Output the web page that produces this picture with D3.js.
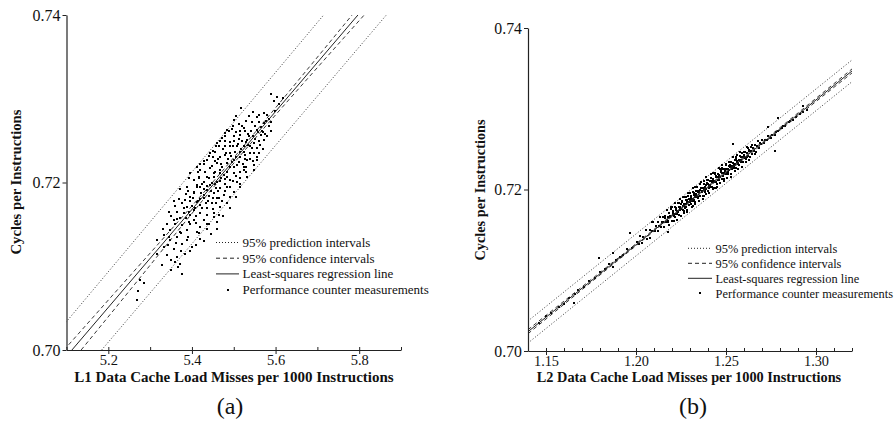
<!DOCTYPE html>
<html><head><meta charset="utf-8">
<script src="https://cdn.jsdelivr.net/npm/d3@7"></script>
<style>
body{margin:0;background:#fff}
svg{display:block}
text{font-family:"Liberation Serif","Times New Roman",serif;fill:#111}
</style>
</head><body><svg id="c" width="896" height="421"></svg>
<script>
// ---------------- Panel (a): L1 data cache ----------------
const aXTicks = [5.1, 5.2, 5.3, 5.4, 5.5, 5.6, 5.7, 5.8, 5.9];
const aXLabels = [5.2, 5.4, 5.6, 5.8];
const aYTicks = [0.70, 0.72, 0.74];
const aRegression = [[5.113, 0.70], [5.797, 0.74]];
const aConfUpper = [[5.094, 0.70], [5.272, 0.71], [5.449, 0.72], [5.618, 0.73], [5.783, 0.74]];
const aConfLower = [[5.135, 0.70], [5.298, 0.71], [5.461, 0.72], [5.634, 0.73], [5.812, 0.74]];
const aPredUpper = [[5.08, 0.7022], [5.715, 0.74]];
const aPredLower = [[5.184, 0.70], [5.865, 0.74]];
const aPoints = [
[5.518,0.7289],[5.56,0.7281],[5.588,0.7306],[5.604,0.7302],[5.618,0.7301],[5.596,0.7297],[5.608,0.7294],[5.572,0.7283],[5.58,0.7281],
[5.50,0.7275],[5.536,0.728],[5.556,0.7278],[5.572,0.7271],[5.584,0.7267],[5.556,0.7263],[5.524,0.7265],[5.484,0.7263],[5.512,0.727],[5.544,0.7272],[5.568,0.7262],
[5.48,0.7259],[5.50,0.7255],[5.516,0.7257],[5.532,0.7251],[5.548,0.7247],[5.564,0.7257],[5.572,0.7251],[5.508,0.7243],[5.46,0.7247],[5.492,0.7243],[5.524,0.7243],[5.544,0.7241],[5.556,0.7241],[5.472,0.7253],[5.536,0.7255],
[5.444,0.7235],[5.468,0.7231],[5.492,0.7235],[5.50,0.7227],[5.516,0.7231],[5.532,0.7227],[5.54,0.7235],[5.556,0.7227],[5.46,0.7223],[5.484,0.7223],[5.508,0.7221],[5.524,0.7219],[5.436,0.7227],[5.548,0.7221],[5.456,0.7237],[5.48,0.7233],[5.504,0.7237],[5.528,0.7233],
[5.396,0.7211],[5.42,0.7215],[5.436,0.7207],[5.452,0.7211],[5.468,0.7215],[5.484,0.7207],[5.50,0.7211],[5.516,0.7213],[5.532,0.7207],[5.492,0.7203],[5.46,0.7201],[5.428,0.7201],[5.404,0.7203],[5.508,0.7201],[5.524,0.7215],[5.548,0.7215],[5.444,0.7217],[5.476,0.7209],[5.416,0.7207],
[5.388,0.7195],[5.404,0.7189],[5.42,0.7195],[5.436,0.7191],[5.452,0.7187],[5.468,0.7193],[5.484,0.7195],[5.50,0.7189],[5.396,0.7183],[5.428,0.7181],[5.46,0.7181],[5.492,0.7183],[5.384,0.7179],[5.444,0.7197],[5.516,0.7195],[5.412,0.7197],[5.476,0.7185],
[5.376,0.7175],[5.388,0.7171],[5.404,0.7167],[5.42,0.7173],[5.436,0.7169],[5.452,0.7163],[5.468,0.7171],[5.42,0.7163],[5.396,0.7161],[5.436,0.7161],[5.484,0.7175],[5.38,0.7163],[5.412,0.7177],[5.448,0.7175],[5.464,0.7161],
[5.34,0.7151],[5.356,0.7155],[5.376,0.7149],[5.388,0.7143],[5.404,0.7155],[5.42,0.7147],[5.436,0.7151],[5.46,0.7153],[5.372,0.7141],[5.412,0.7141],[5.348,0.7143],[5.452,0.7159],[5.364,0.7157],[5.392,0.7153],
[5.332,0.7137],[5.348,0.7131],[5.364,0.7135],[5.376,0.7127],[5.388,0.7131],[5.40,0.7123],[5.356,0.7121],[5.332,0.7123],[5.316,0.7131],[5.42,0.7133],
[5.316,0.7115],[5.364,0.7111],[5.372,0.7103],[5.328,0.7101],[5.35,0.7107],[5.34,0.7113],[5.384,0.7115],
[5.35,0.7095],[5.366,0.7099],[5.276,0.7084],[5.286,0.708],[5.272,0.707],[5.268,0.706],[5.376,0.7091],
[5.392,0.7165],[5.40,0.7172],[5.41,0.7160],[5.415,0.7178],[5.425,0.7170],[5.43,0.7185],[5.438,0.7178],[5.445,0.7190],[5.45,0.7182],[5.455,0.7198],[5.462,0.7190],[5.47,0.7205],[5.478,0.7198],[5.485,0.7212],[5.49,0.7218],[5.496,0.7225],[5.505,0.7230],[5.512,0.7225],[5.518,0.7240],[5.525,0.7236],[5.53,0.7248],[5.538,0.7244],[5.545,0.7256],[5.55,0.7252],[5.558,0.7260],[5.565,0.7266],[5.57,0.7260],[5.578,0.7274],
[5.35,0.7160],[5.36,0.7150],[5.365,0.7165],[5.372,0.7158],[5.38,0.7170],[5.385,0.7158],[5.395,0.7150],[5.405,0.7188],[5.412,0.7195],[5.418,0.7205],[5.425,0.7198],[5.432,0.7212],[5.44,0.7205],[5.448,0.7220],[5.455,0.7212],[5.462,0.7228],[5.47,0.7222],[5.475,0.7240],[5.482,0.7235],[5.49,0.7248],[5.498,0.7243],[5.505,0.7260],[5.512,0.7252],[5.52,0.7268],[5.528,0.7262],
[5.44,0.7150],[5.45,0.7168],[5.458,0.7175],[5.465,0.7182],[5.472,0.7178],[5.48,0.7190],[5.49,0.7195],[5.498,0.7202],[5.505,0.7208],[5.515,0.7205],[5.522,0.7222],[5.53,0.7218],[5.538,0.7228],[5.548,0.7235],[5.555,0.7230],[5.562,0.7245],[5.57,0.7240],[5.58,0.7255],[5.59,0.7272],[5.598,0.7285],
[5.39,0.7135],[5.375,0.7140],[5.362,0.7128],[5.345,0.7135],[5.41,0.7152],[5.418,0.7140],[5.428,0.7155],[5.435,0.7145],
[5.395,0.7178],[5.402,0.7182],[5.408,0.7170],[5.422,0.7188],[5.428,0.7192],[5.433,0.7176],[5.442,0.7184],[5.447,0.7200],[5.453,0.7206],[5.458,0.7194],[5.466,0.7211],[5.473,0.7218],[5.479,0.7204],[5.487,0.7228],[5.494,0.7232],[5.501,0.7218],[5.509,0.7246],[5.514,0.7236],[5.52,0.7250],[5.527,0.7228],[5.534,0.7258],[5.541,0.7262],[5.552,0.7268],[5.561,0.7272],[5.39,0.7190],[5.415,0.7212],[5.43,0.7222],[5.45,0.7230],[5.465,0.7244],[5.478,0.7250],[5.495,0.7264],[5.468,0.7202],[5.36,0.7172],[5.37,0.7180],[5.385,0.7186],
[5.43,0.7226],[5.44,0.7232],[5.45,0.7238],[5.458,0.7244],[5.468,0.7250],[5.478,0.7256],[5.488,0.7262],[5.498,0.7268],[5.505,0.7280],[5.535,0.7245],[5.56,0.7250],[5.575,0.7258],[5.59,0.7262],[5.585,0.7276],[5.56,0.7235],[5.545,0.7226],[5.53,0.7212],[5.515,0.7198],[5.505,0.7183],[5.49,0.7170],[5.475,0.7160],[5.46,0.7145],[5.445,0.7138],[5.43,0.7130],[5.41,0.7125],[5.395,0.7118],[5.375,0.7118],[5.36,0.7105],[5.342,0.7125],[5.33,0.7145],[5.345,0.7165],[5.358,0.7178],[5.372,0.7192],[5.392,0.7205],[5.412,0.7218],[5.42,0.7222],[5.42,0.7180],[5.435,0.7196],[5.455,0.7226],[5.48,0.7244],[5.5,0.7250],[5.515,0.7262],[5.53,0.7274],[5.545,0.7284]
];

// ---------------- Panel (b): L2 data cache ----------------
const bXTicks = [1.14,1.15,1.16,1.17,1.18,1.19,1.20,1.21,1.22,1.23,1.24,1.25,1.26,1.27,1.28,1.29,1.30,1.31,1.32];
const bXLabels = [1.15, 1.20, 1.25, 1.30];
const bYTicks = [0.70, 0.72, 0.74];
const bRegression = [[1.14, 0.70239], [1.32, 0.73468]];
const bConfUpper = [[1.14, 0.70264], [1.23, 0.71864], [1.32, 0.73493]];
const bConfLower = [[1.14, 0.70214], [1.23, 0.71844], [1.32, 0.73443]];
const bPredUpper = [[1.14, 0.70372], [1.32, 0.73604]];
const bPredLower = [[1.14, 0.70099], [1.32, 0.73335]];
const bPoints = [
[1.146,0.7035],[1.150,0.7043],[1.153,0.7047],[1.157,0.7055],[1.160,0.7058],[1.163,0.7066],[1.1656,0.7059],[1.166,0.7070],[1.168,0.7076],[1.171,0.7079],[1.174,0.7087],[1.177,0.7090],[1.180,0.7098],[1.1794,0.7115],[1.183,0.7101],[1.185,0.7108],[1.187,0.7104],[1.1874,0.7121],[1.189,0.7113],[1.191,0.7117],[1.193,0.7119],[1.195,0.7126],[1.1967,0.7146],[1.198,0.7128],[1.2087,0.7160],[1.218,0.7147],[1.254,0.7256],[1.2735,0.7277],[1.2772,0.7248],[1.279,0.7288],[1.293,0.7303],
[1.2005,0.71354],[1.2015,0.71322],[1.2020,0.71421],[1.2035,0.71338],[1.2040,0.71407],[1.2055,0.71504],[1.2060,0.71393],[1.2075,0.71500],[1.2080,0.71399],[1.2090,0.71486],
[1.2095,0.71595],[1.2105,0.71483],[1.2110,0.71552],[1.2120,0.71480],[1.2125,0.71599],[1.2130,0.71548],[1.2135,0.71657],[1.2140,0.71536],[1.2145,0.71595],[1.2150,0.71654],
[1.2155,0.71533],[1.2160,0.71642],[1.2165,0.71601],[1.2170,0.71740],[1.2175,0.71659],[1.2180,0.71598],[1.2185,0.71707],[1.2190,0.71656],[1.2195,0.71755],[1.2200,0.71604],
[1.2203,0.71699],[1.2207,0.71736],[1.2210,0.71672],[1.2214,0.71779],[1.2218,0.71656],[1.2222,0.71743],[1.2226,0.71730],[1.2230,0.71698],[1.2233,0.71833],[1.2237,0.71780],
[1.2241,0.71687],[1.2245,0.71775],[1.2249,0.71822],[1.2252,0.71757],[1.2256,0.71844],[1.2260,0.71741],[1.2264,0.71819],[1.2268,0.71796],[1.2271,0.71911],[1.2275,0.71788],
[1.2279,0.71866],[1.2282,0.71751],[1.2286,0.71848],[1.2290,0.71915],[1.2293,0.71811],[1.2297,0.71888],[1.2301,0.71845],[1.2305,0.71922],[1.2308,0.71817],[1.2312,0.71885],
[1.2316,0.71972],[1.2320,0.71869],[1.2323,0.71934],[1.2327,0.71842],[1.2331,0.71939],[1.2335,0.71986],[1.2338,0.71911],[1.2342,0.71979],[1.2346,0.71896],[1.2350,0.71963],
[1.2353,0.72068],[1.2357,0.71925],[1.2361,0.72023],[1.2364,0.71968],[1.2368,0.72015],[1.2372,0.71922],[1.2376,0.72070],[1.2379,0.72005],[1.2383,0.71972],[1.2387,0.72059],
[1.2390,0.72005],[1.2394,0.72122],[1.2398,0.71979],[1.2401,0.72064],[1.2405,0.72022],[1.2409,0.72109],[1.2412,0.72054],[1.2416,0.72141],[1.2420,0.72028],[1.2423,0.72094],
[1.2427,0.72131],[1.2431,0.72018],[1.2435,0.72105],[1.2438,0.72191],[1.2442,0.72088],[1.2446,0.72155],[1.2450,0.72072],[1.2453,0.72198],[1.2457,0.72155],[1.2461,0.72112],
[1.2465,0.72259],[1.2468,0.72155],[1.2472,0.72212],[1.2476,0.72129],[1.2480,0.72206],[1.2484,0.72253],[1.2487,0.72129],[1.2491,0.72206],[1.2495,0.72253],[1.2499,0.72190],
[1.2502,0.72306],[1.2506,0.72253],[1.2510,0.72190],[1.2514,0.72297],[1.2517,0.72243],[1.2521,0.72290],[1.2525,0.72197],[1.2529,0.72344],[1.2532,0.72289],[1.2536,0.72257],
[1.2540,0.72334],[1.2544,0.72261],[1.2548,0.72368],[1.2551,0.72313],[1.2555,0.72261],[1.2559,0.72358],[1.2563,0.72425],[1.2566,0.72310],[1.2570,0.72368],[1.2574,0.72305],
[1.2578,0.72412],[1.2581,0.72367],[1.2585,0.72335],[1.2589,0.72452],[1.2593,0.72399],[1.2597,0.72336],[1.2600,0.72432],[1.2604,0.72389],[1.2608,0.72466],[1.2612,0.72383],
[1.2616,0.72450],[1.2620,0.72517],[1.2624,0.72414],[1.2628,0.72482],[1.2632,0.72399],[1.2637,0.72478],[1.2641,0.72525],[1.2646,0.72444],[1.2650,0.72511],[1.2655,0.72480],
[1.2660,0.72549],[1.2666,0.72470],[1.2671,0.72539],[1.2677,0.72600],[1.2683,0.72520],[1.2689,0.72581],[1.2695,0.72562],[1.2702,0.72614],
[1.2152,0.71598],[1.2163,0.71667],[1.2178,0.71614],[1.2189,0.71674],[1.2205,0.71723],[1.2216,0.71693],[1.2224,0.71777],[1.2235,0.71717],[1.2243,0.71781],[1.2254,0.71861],
[1.2262,0.71795],[1.2273,0.71765],[1.2284,0.71875],[1.2295,0.71844],[1.2303,0.71889],[1.2314,0.71858],[1.2325,0.71958],[1.2333,0.71922],[1.2344,0.71902],[1.2355,0.71992],
[1.2366,0.71982],[1.2374,0.72016],[1.2385,0.71986],[1.2396,0.72075],[1.2403,0.72048],[1.2414,0.72028],[1.2425,0.72107],[1.2433,0.72092],[1.2444,0.72172],[1.2455,0.72121],
[1.2463,0.72176],[1.2474,0.72245],[1.2482,0.72170],[1.2493,0.72229],[1.2504,0.72199],[1.2512,0.72254],[1.2523,0.72303],[1.2534,0.72263],[1.2546,0.72315],[1.2557,0.72374],
[1.2569,0.72326],[1.2583,0.72401],[1.2599,0.72400],[1.2614,0.72406],[1.2630,0.72495],
[1.2192,0.71789],[1.2247,0.71878],[1.2288,0.71962],[1.2330,0.72027],[1.2363,0.72096],[1.2391,0.72156],[1.2428,0.72203],[1.2479,0.72304],[1.2539,0.72402],[1.2319,0.71797],[1.2449,0.72031],[1.2267,0.71714],[1.2380,0.71917],
[1.2185,0.71557],[1.2198,0.71780],[1.2209,0.71610],[1.2219,0.71828],[1.2228,0.71624],[1.2239,0.71834],[1.2250,0.71674],[1.2259,0.71910],[1.2269,0.71728],[1.2276,0.71910],
[1.2285,0.71726],[1.2299,0.71961],[1.2309,0.71789],[1.2318,0.72015],[1.2329,0.71815],[1.2340,0.72025],[1.2348,0.71859],[1.2359,0.72099],[1.2370,0.71879],[1.2378,0.72103],
[1.2389,0.71943],[1.2400,0.72123],[1.2407,0.71955],[1.2419,0.72187],[1.2430,0.72006],[1.2439,0.72203],[1.2447,0.72017],[1.2459,0.72268],[1.2469,0.72086],[1.2477,0.72261],
[1.2489,0.72102],[1.2498,0.72318],[1.2508,0.72146],[1.2519,0.72346],[1.2527,0.72160],[1.2538,0.72400],[1.2549,0.72230],[1.2558,0.72406],[1.2568,0.72254],[1.2579,0.72464],
[1.2588,0.72280],[1.2598,0.72468],[1.2609,0.72338],[1.2618,0.72524],[1.2629,0.72363],[1.2644,0.72550],[1.2663,0.72444],
[1.2212,0.71695],[1.2229,0.71736],[1.2246,0.71746],[1.2265,0.71810],[1.2280,0.71817],[1.2298,0.71870],[1.2310,0.71861],[1.2328,0.71913],[1.2347,0.71968],[1.2369,0.71967],
[1.2386,0.72027],[1.2408,0.72047],[1.2421,0.72100],[1.2440,0.72094],[1.2460,0.72150],[1.2486,0.72207],[1.2509,0.72218],[1.2520,0.72278],[1.2542,0.72287],[1.2561,0.72341],[1.2586,0.72356],
[1.271,0.7257],[1.2715,0.7261],[1.273,0.7261],[1.2735,0.7266],[1.275,0.7264],[1.2755,0.7268],[1.277,0.7268],[1.2775,0.7271],[1.279,0.7272],[1.281,0.7276],[1.2815,0.7279],[1.283,0.7279],[1.285,0.7283],[1.2855,0.7285],[1.287,0.7286],[1.289,0.7290],[1.291,0.7294],[1.293,0.7296],[1.295,0.7298]
];

const legendLabels = ["95% prediction intervals", "95% confidence intervals", "Least-squares regression line", "Performance counter measurements"];
const yTitle = "Cycles per Instructions";

const svg = d3.select('#c');

function drawPanel(o) {
  const x = d3.scaleLinear().domain(o.xDomain).range([o.left, o.right]);
  const y = d3.scaleLinear().domain(o.yDomain).range([o.bottom, o.top]);
  const g = svg.append('g');

  svg.append('clipPath').attr('id', 'clip' + o.id)
    .append('rect').attr('x', o.left).attr('y', o.top)
    .attr('width', o.right - o.left).attr('height', o.bottom - o.top);

  const line = d3.line().x(d => x(d[0])).y(d => y(d[1]));
  const curve = d3.line().x(d => x(d[0])).y(d => y(d[1])).curve(d3.curveNatural);
  const lg = g.append('g').attr('clip-path', 'url(#clip' + o.id + ')');

  lg.selectAll('rect.pt').data(o.points).join('rect').attr('class', 'pt')
    .attr('x', d => Math.round(x(d[0]) - 1)).attr('y', d => Math.round(y(d[1]) - 1))
    .attr('width', 2).attr('height', 2).attr('fill', '#000')
    .attr('shape-rendering', 'crispEdges');

  [o.predUpper, o.predLower].forEach(p => lg.append('path').attr('d', line(p))
    .attr('fill', 'none').attr('stroke', '#222').attr('stroke-width', 0.9).attr('stroke-dasharray', '1,2'));
  [o.confUpper, o.confLower].forEach(p => lg.append('path').attr('d', curve(p))
    .attr('fill', 'none').attr('stroke', '#222').attr('stroke-width', 0.9).attr('stroke-dasharray', '4,3'));
  lg.append('path').attr('d', line(o.regression))
    .attr('fill', 'none').attr('stroke', '#222').attr('stroke-width', 1);

  // x axis: minor ticks
  g.append('g').attr('transform', `translate(0,${o.bottom})`)
    .call(d3.axisBottom(x).tickValues(o.xTicks).tickSize(-3).tickSizeOuter(0).tickFormat(''))
    .call(a => a.select('.domain').attr('stroke', '#222').attr('stroke-width', 1.2))
    .call(a => a.selectAll('.tick line').attr('stroke', '#222'));
  // x axis: major ticks + labels
  g.append('g').attr('transform', `translate(0,${o.bottom})`)
    .call(d3.axisBottom(x).tickValues(o.xLabels).tickSize(4).tickSizeOuter(0).tickFormat(o.xFormat))
    .call(a => a.select('.domain').remove())
    .call(a => a.selectAll('.tick line').attr('stroke', '#222'))
    .call(a => a.selectAll('text').attr('y', 4.5).attr('font-size', o.xTickFont).attr('fill', '#222')
      .style('font-family', '"Liberation Serif", serif'));

  // y axis
  g.append('g').attr('transform', `translate(${o.left},0)`)
    .call(d3.axisLeft(y).tickValues(o.yTicks).tickSize(4).tickPadding(2).tickSizeOuter(0).tickFormat(d3.format('.2f')))
    .call(a => a.select('.domain').attr('stroke', '#222').attr('stroke-width', 1.2))
    .call(a => a.selectAll('.tick line').attr('stroke', '#222'))
    .call(a => a.selectAll('text').attr('font-size', o.yTickFont).attr('fill', '#222')
      .style('font-family', '"Liberation Serif", serif'));

  // titles
  g.append('text').attr('x', o.xTitleX).attr('y', 382).attr('text-anchor', 'middle')
    .attr('font-size', o.xTitleFont).attr('font-weight', 'bold').text(o.xTitle);
  g.append('text').attr('transform', `translate(${o.yTitleX},${o.yTitleY}) rotate(-90)`)
    .attr('text-anchor', 'middle').attr('font-size', o.yTitleFont).attr('font-weight', 'bold').text(yTitle);
  g.append('text').attr('x', o.capX).attr('y', 414).attr('text-anchor', 'middle')
    .attr('font-size', 24).text(o.caption);

  // legend
  const lgd = g.append('g');
  const styles = ['1,2', '4,3', null, 'dot'];
  legendLabels.forEach((t, i) => {
    const cy = o.legY + i * o.legStep;
    if (styles[i] === 'dot') {
      lgd.append('rect').attr('x', Math.round((o.legX0 + o.legX1) / 2 - 1)).attr('y', Math.round(cy - 1))
        .attr('width', 2).attr('height', 2).attr('fill', '#000').attr('shape-rendering', 'crispEdges');
    } else {
      const l = lgd.append('line').attr('x1', o.legX0).attr('x2', o.legX1).attr('y1', cy).attr('y2', cy)
        .attr('stroke', '#222').attr('stroke-width', 1);
      if (styles[i]) l.attr('stroke-dasharray', styles[i]);
    }
    lgd.append('text').attr('x', o.legX1 + 3.5).attr('y', cy + o.legFont * 0.34)
      .attr('font-size', o.legFont).text(t);
  });
}

drawPanel({
  id: 'a', xDomain: [5.1, 5.9], yDomain: [0.70, 0.74],
  left: 66.5, right: 401, top: 15, bottom: 350,
  xTicks: aXTicks, xLabels: aXLabels, yTicks: aYTicks, xFormat: d3.format('.1f'),
  points: aPoints, regression: aRegression, confUpper: aConfUpper, confLower: aConfLower,
  predUpper: aPredUpper, predLower: aPredLower,
  xTitle: 'L1 Data Cache Load Misses per 1000 Instructions', xTitleX: 234, xTitleFont: 15,
  yTitleX: 21, yTitleY: 182, yTitleFont: 14.7, caption: '(a)', capX: 230,
  xTickFont: 14.5, yTickFont: 16,
  legX0: 216, legX1: 239, legY: 242.5, legStep: 15.7, legFont: 13
});
drawPanel({
  id: 'b', xDomain: [1.14, 1.32], yDomain: [0.70, 0.74],
  left: 528, right: 852, top: 28, bottom: 351,
  xTicks: bXTicks, xLabels: bXLabels, yTicks: bYTicks, xFormat: d3.format('.2f'),
  points: bPoints, regression: bRegression, confUpper: bConfUpper, confLower: bConfLower,
  predUpper: bPredUpper, predLower: bPredLower,
  xTitle: 'L2 Data Cache Load Misses per 1000 Instructions', xTitleX: 689, xTitleFont: 14.3,
  yTitleX: 485, yTitleY: 190, yTitleFont: 14.3, caption: '(b)', capX: 693,
  xTickFont: 14.3, yTickFont: 15.8,
  legX0: 688, legX1: 712, legY: 248.3, legStep: 15, legFont: 12.4
});
</script>
</body></html>
